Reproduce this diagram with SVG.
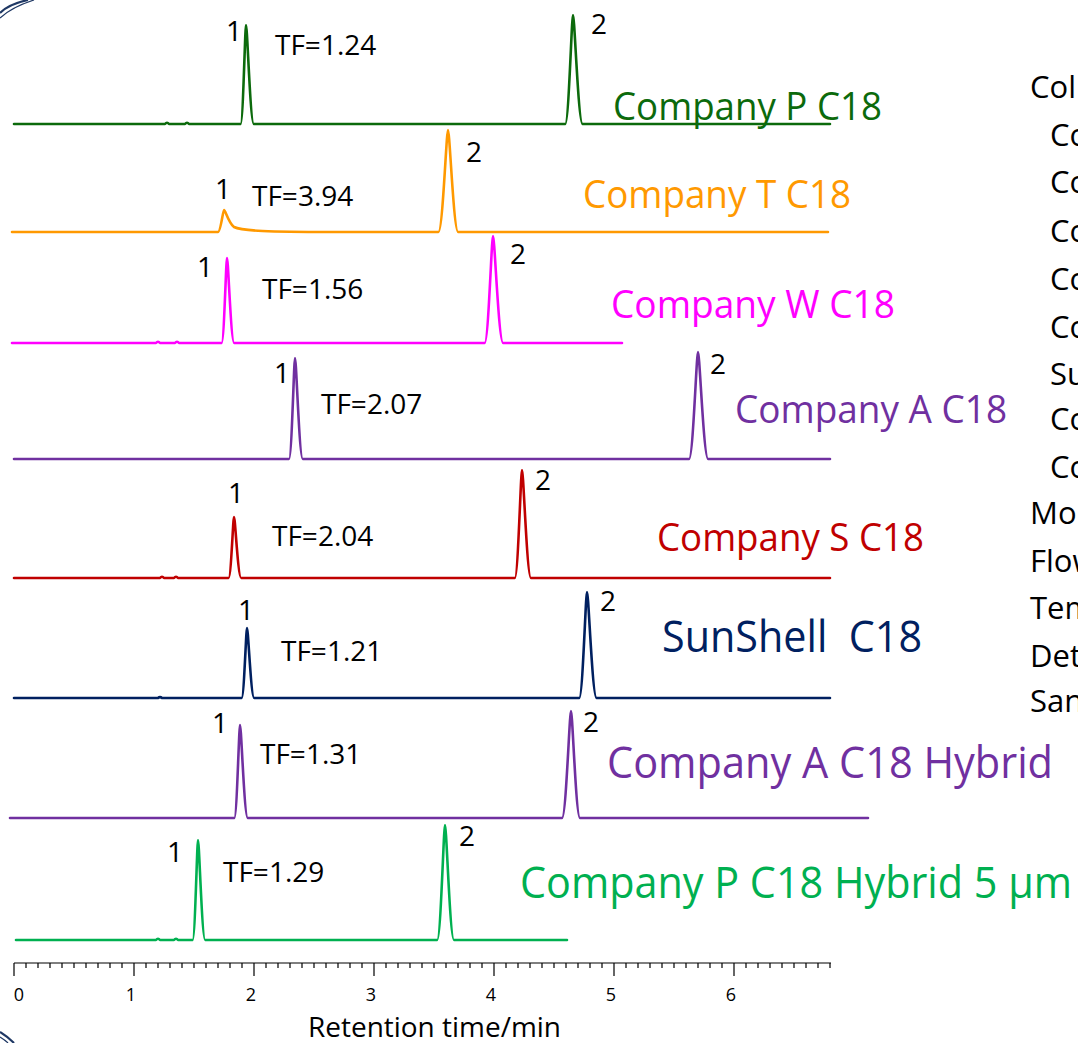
<svg xmlns="http://www.w3.org/2000/svg" width="1078" height="1043" viewBox="0 0 1078 1043">
<style>
  text { font-family: "Open Sans", "Noto Sans", "Liberation Sans", sans-serif; }
  .tr { fill: none; stroke-width: 2.6; stroke-linejoin: round; stroke-linecap: round; }
  .lbl { font-size: 28px; fill: #000; }
  .nm { font-size: 38px; }
  .big { font-size: 44px; }
  .ax { fill: none; stroke: #000; stroke-width: 1.2; }
  .axn { font-size: 18px; fill: #000; text-anchor: middle; }
  .side { font-size: 31px; fill: #000; }
  .deco { fill: none; stroke: #1F3864; }
</style>
<rect width="1078" height="1043" fill="#fff"/>
<g id="decoration">
  <path class="deco" d="M0,13 Q9,4 28,0" stroke-width="2.2"/>
  <path class="deco" d="M0,18 Q12,7 34,0" stroke-width="1.2"/>
  <path class="deco" d="M0,1032 Q8,1037 14,1043" stroke-width="2.2"/>
  <path class="deco" d="M0,1037 Q5,1040 8,1043" stroke-width="1.2"/>
</g>
<g id="connectors">
  <path id="trace-p" class="tr" stroke="#0C6A0C" d="M14,124 L165,124 Q167,121.5 169,124 L185,124 Q187,121.5 189,124 L240.6,124 C243.05,124 245.1,25 246,25 C247.3,25 250.26,124 253.8,124 L565.2,124 C568.74,124 571.7,15 573,15 C574.6,15 578.25,124 582.6,124 L830,124"/>
  <path id="trace-t" class="tr" stroke="#FF9900" d="M12,232 L218,232 C220.7,232 223,210 224,210 C225.5,210 228,222 234,227 C242,231 270,232 330,232 L438.4,232 C442.75,232 446.4,130 448,130 C449.7,130 453.6,232 458.2,232 L828,232"/>
  <path id="trace-w" class="tr" stroke="#FF00FF" d="M12,343 L156,343 Q158,340.5 160,343 L175,343 Q177,340.5 179,343 L221.6,343 C224.05,343 226.1,258 227,258 C228.2,258 230.94,343 234.2,343 L484.6,343 C488.41,343 491.6,236 493,236 C494.7,236 498.58,343 503.2,343 L622,343"/>
  <path id="trace-a" class="tr" stroke="#7030A0" d="M14,459 L289,459 C291.72,459 294,358 295,358 C296.3,358 299.26,459 302.8,459 L689,459 C693.08,459 696.5,352 698,352 C699.7,352 703.58,459 708.2,459 L830,459"/>
  <path id="trace-s" class="tr" stroke="#C00000" d="M14,578 L160,578 Q162,575.5 164,578 L174,578 Q176,575.5 178,578 L228.6,578 C231.05,578 233.1,517 234,517 C235.2,517 237.94,578 241.2,578 L514.8,578 C518.06,578 520.8,470 522,470 C523.5,470 526.92,578 531,578 L830,578"/>
  <path id="trace-sunshell" class="tr" stroke="#002060" d="M14,698 L158,698 Q160,696 162,698 L241.6,698 C244.05,698 246.1,628 247,628 C248.2,628 250.94,698 254.2,698 L579.2,698 C582.74,698 585.7,592 587,592 C588.6,592 592.25,698 596.6,698 L830,698"/>
  <path id="trace-ah" class="tr" stroke="#7030A0" d="M10,818 L234.3,818 C236.88,818 239.05,725 240,725 C241.3,725 244.26,818 247.8,818 L562,818 C566.08,818 569.5,711 571,711 C572.5,711 575.92,818 580,818 L868,818"/>
  <path id="trace-ph" class="tr" stroke="#00B050" d="M16,940 L156,940 Q158,937.5 160,940 L174,940 Q176,937.5 178,940 L192.6,940 C195.05,940 197.1,840 198,840 C199.2,840 201.94,940 205.2,940 L437.2,940 C440.74,940 443.7,825 445,825 C446.5,825 449.92,940 454,940 L567,940"/>
</g>
<g id="node-company-p">
  <text class="lbl" x="226" y="41">1</text>
  <text class="lbl" x="275" y="55">TF=1.24</text>
  <text class="lbl" x="591" y="34">2</text>
  <text class="nm" x="613" y="120" fill="#0C6A0C" textLength="269" lengthAdjust="spacingAndGlyphs">Company P C18</text>
</g>
<g id="node-company-t">
  <text class="lbl" x="215" y="199">1</text>
  <text class="lbl" x="252" y="206">TF=3.94</text>
  <text class="lbl" x="466" y="162">2</text>
  <text class="nm" x="583" y="208" fill="#FF9900" textLength="268" lengthAdjust="spacingAndGlyphs">Company T C18</text>
</g>
<g id="node-company-w">
  <text class="lbl" x="197" y="277">1</text>
  <text class="lbl" x="262" y="299">TF=1.56</text>
  <text class="lbl" x="510" y="264">2</text>
  <text class="nm" x="611" y="318" fill="#FF00FF" textLength="284" lengthAdjust="spacingAndGlyphs">Company W C18</text>
</g>
<g id="node-company-a">
  <text class="lbl" x="274" y="383">1</text>
  <text class="lbl" x="321" y="414">TF=2.07</text>
  <text class="lbl" x="710" y="374">2</text>
  <text class="nm" x="735" y="423" fill="#7030A0" textLength="272" lengthAdjust="spacingAndGlyphs">Company A C18</text>
</g>
<g id="node-company-s">
  <text class="lbl" x="228" y="503">1</text>
  <text class="lbl" x="272" y="546">TF=2.04</text>
  <text class="lbl" x="535" y="490">2</text>
  <text class="nm" x="657" y="551" fill="#C00000" textLength="267" lengthAdjust="spacingAndGlyphs">Company S C18</text>
</g>
<g id="node-sunshell">
  <text class="lbl" x="238" y="620">1</text>
  <text class="lbl" x="281" y="661">TF=1.21</text>
  <text class="lbl" x="600" y="611">2</text>
  <text class="big" x="662" y="652" fill="#002060" xml:space="preserve" textLength="260" lengthAdjust="spacingAndGlyphs">SunShell  C18</text>
</g>
<g id="node-company-a-hybrid">
  <text class="lbl" x="212" y="733">1</text>
  <text class="lbl" x="260" y="764">TF=1.31</text>
  <text class="lbl" x="583" y="732">2</text>
  <text class="big" x="607" y="778" fill="#7030A0" textLength="446" lengthAdjust="spacingAndGlyphs">Company A C18 Hybrid</text>
</g>
<g id="node-company-p-hybrid">
  <text class="lbl" x="167" y="862">1</text>
  <text class="lbl" x="223" y="882">TF=1.29</text>
  <text class="lbl" x="459" y="846">2</text>
  <text class="big" x="520" y="898" fill="#00B050" textLength="552" lengthAdjust="spacingAndGlyphs">Company P C18 Hybrid 5 µm</text>
</g>
<g id="axis">
  <path class="ax" d="M14,963 H831"/>
  <path class="ax" d="M14,963 v13 M134,963 v13 M254,963 v13 M374,963 v13 M494,963 v13 M614,963 v13 M734,963 v13"/>
  <path class="ax" d="M26,963 v5 M38,963 v5 M50,963 v5 M62,963 v5 M74,963 v5 M86,963 v5 M98,963 v5 M110,963 v5 M122,963 v5 M146,963 v5 M158,963 v5 M170,963 v5 M182,963 v5 M194,963 v5 M206,963 v5 M218,963 v5 M230,963 v5 M242,963 v5 M266,963 v5 M278,963 v5 M290,963 v5 M302,963 v5 M314,963 v5 M326,963 v5 M338,963 v5 M350,963 v5 M362,963 v5 M386,963 v5 M398,963 v5 M410,963 v5 M422,963 v5 M434,963 v5 M446,963 v5 M458,963 v5 M470,963 v5 M482,963 v5 M506,963 v5 M518,963 v5 M530,963 v5 M542,963 v5 M554,963 v5 M566,963 v5 M578,963 v5 M590,963 v5 M602,963 v5 M626,963 v5 M638,963 v5 M650,963 v5 M662,963 v5 M674,963 v5 M686,963 v5 M698,963 v5 M710,963 v5 M722,963 v5 M746,963 v5 M758,963 v5 M770,963 v5 M782,963 v5 M794,963 v5 M806,963 v5 M818,963 v5 M830,963 v5"/>
  <text class="axn" x="19" y="1001">0</text>
  <text class="axn" x="131" y="1001">1</text>
  <text class="axn" x="251" y="1001">2</text>
  <text class="axn" x="371" y="1001">3</text>
  <text class="axn" x="491" y="1001">4</text>
  <text class="axn" x="611" y="1001">5</text>
  <text class="axn" x="731" y="1001">6</text>
  <text x="308" y="1037" font-size="26.6" fill="#000" textLength="253" lengthAdjust="spacingAndGlyphs">Retention time/min</text>
</g>
<g id="conditions">
  <text class="side" x="1030" y="98">Col</text>
  <text class="side" x="1050" y="146">Co</text>
  <text class="side" x="1050" y="193">Co</text>
  <text class="side" x="1050" y="242">Co</text>
  <text class="side" x="1050" y="290">Co</text>
  <text class="side" x="1050" y="338">Co</text>
  <text class="side" x="1050" y="385">Su</text>
  <text class="side" x="1050" y="430">Co</text>
  <text class="side" x="1050" y="478">Co</text>
  <text class="side" x="1030" y="524">Mo</text>
  <text class="side" x="1030" y="572">Flow</text>
  <text class="side" x="1030" y="619">Tem</text>
  <text class="side" x="1030" y="667">Det</text>
  <text class="side" x="1030" y="712">San</text>
</g>
</svg>
